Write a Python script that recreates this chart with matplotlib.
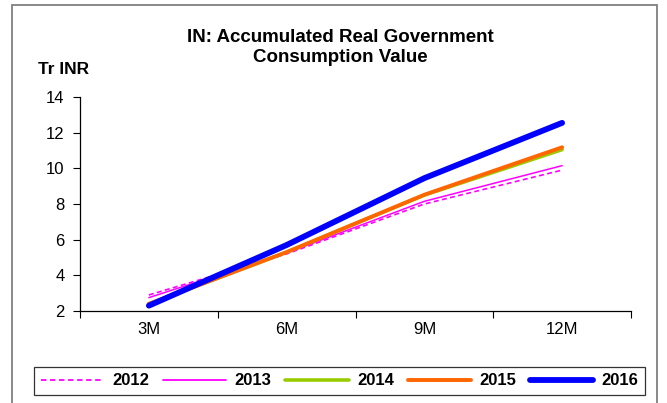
import matplotlib
matplotlib.use("Agg")
import matplotlib.pyplot as plt
from matplotlib.patches import Rectangle

plt.rcParams['font.family'] = ['Liberation Sans', 'DejaVu Sans']

periods = ["3M", "6M", "9M", "12M"]
years = ["2012", "2013", "2014", "2015", "2016"]
values = {
    "2012": [2.9, 5.2, 8.0, 9.9],
    "2013": [2.75, 5.25, 8.15, 10.15],
    "2014": [2.4, 5.3, 8.5, 11.05],
    "2015": [2.4, 5.3, 8.52, 11.18],
    "2016": [2.3, 5.7, 9.45, 12.55],
}
colors = {"2012": "#FF00FF", "2013": "#FF00FF", "2014": "#99CC00",
          "2015": "#FF6600", "2016": "#0000FF"}
widths = {"2012": 1.2, "2013": 1.1, "2014": 2.6, "2015": 2.8, "2016": 4.2}
styles = {"2012": (0, (3, 2)), "2013": "-", "2014": "-", "2015": "-", "2016": "-"}

fig = plt.figure(figsize=(6.67, 4.03), dpi=100)

# outer chart frame
fig.patches.append(Rectangle((12 / 667, -0.02), 645 / 667, 1 - 5 / 403 + 0.02,
                             transform=fig.transFigure, fill=False,
                             edgecolor="#808080", linewidth=1.3))

ax = fig.add_axes([80 / 667, 1 - 311 / 403, 551 / 667, 214 / 403])
x = list(range(len(periods)))
handles = []
for y in years:
    h, = ax.plot(x, values[y], color=colors[y], lw=widths[y], ls=styles[y],
                 solid_capstyle="round", label=y)
    handles.append(h)

ax.set_xlim(-0.5, 3.5)
ax.set_ylim(2, 14)
ax.set_yticks(range(2, 15, 2))
ax.set_xticks([i - 0.5 for i in range(len(periods) + 1)])
ax.set_xticklabels([])
ax.set_xticks(x, minor=True)
ax.set_xticklabels(periods, minor=True)
ax.tick_params(axis="x", which="minor", length=0, pad=8, labelsize=12)
ax.tick_params(axis="x", which="major", length=5, direction="out", width=0.8)
ax.tick_params(axis="y", length=5, direction="out", width=0.8, labelsize=12, pad=6)
for s in ("top", "right"):
    ax.spines[s].set_visible(False)
for s in ("left", "bottom"):
    ax.spines[s].set_linewidth(0.9)

fig.text(340 / 667, 1 - 38 / 403, "IN: Accumulated Real Government",
         ha="center", va="center", fontsize=13.5, fontweight="bold")
fig.text(340 / 667, 1 - 58 / 403, "Consumption Value",
         ha="center", va="center", fontsize=13.5, fontweight="bold")
fig.text(38 / 667, 1 - 69 / 403, "Tr INR", ha="left", va="center",
         fontsize=12.5, fontweight="bold")

leg = fig.legend(handles=handles, labels=years, loc="lower left",
                 bbox_to_anchor=(34 / 667, 1 - 395 / 403, 611 / 667, 30 / 403),
                 mode="expand", ncol=5, frameon=True, fancybox=False,
                 handlelength=3.8, handletextpad=0.5, borderaxespad=0,
                 prop={"weight": "bold", "size": 12})
leg.get_frame().set_edgecolor("black")
leg.get_frame().set_linewidth(0.9)
for lh, y in zip(leg.get_lines(), years):
    lh.set_linewidth(max(widths[y], 1.3) * 1.0)

fig.savefig("out.png", dpi=100)
